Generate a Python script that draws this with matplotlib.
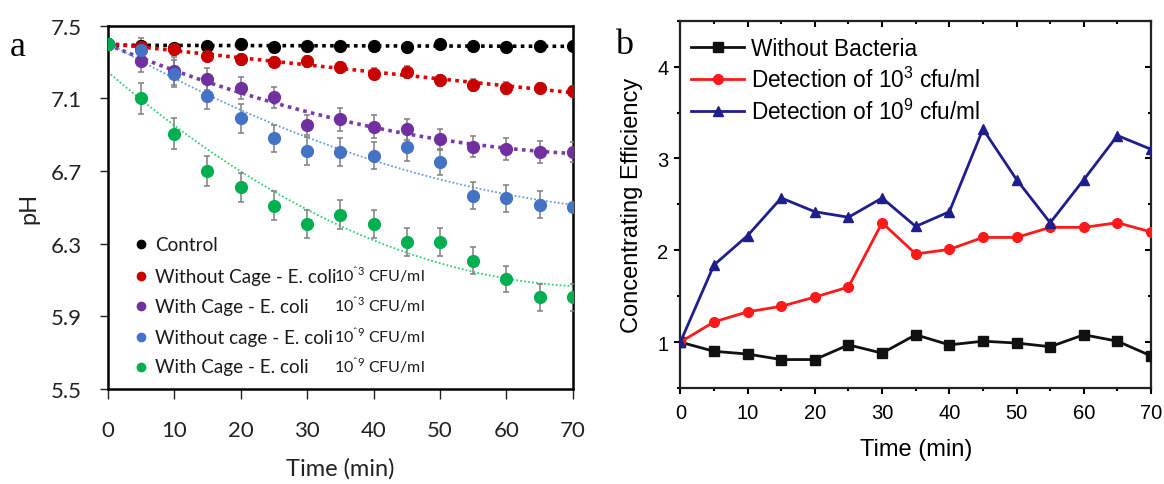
import numpy as np
import matplotlib
matplotlib.use("Agg")
import matplotlib.pyplot as plt
from matplotlib.ticker import MultipleLocator

plt.rcParams['mathtext.fontset'] = 'custom'
plt.rcParams['mathtext.rm'] = 'Lato'
plt.rcParams['mathtext.sf'] = 'Liberation Sans'

# ---------------- data: panel a ----------------
time = [0, 5, 10, 15, 20, 25, 30, 35, 40, 45, 50, 55, 60, 65, 70]
ph_control = [7.40, 7.39, 7.38, 7.39, 7.40, 7.385, 7.39, 7.39, 7.39, 7.385, 7.40, 7.387, 7.381, 7.387, 7.387]
ph_red = [7.40, 7.385, 7.37, 7.335, 7.315, 7.30, 7.305, 7.27, 7.235, 7.245, 7.20, 7.173, 7.157, 7.157, 7.139]
ph_purple = [7.40, 7.305, 7.25, 7.205, 7.155, 7.105, 6.955, 6.985, 6.945, 6.93, 6.875, 6.835, 6.82, 6.805, 6.805]
ph_blue = [7.40, 7.365, 7.235, 7.115, 6.99, 6.88, 6.81, 6.805, 6.785, 6.83, 6.75, 6.565, 6.55, 6.515, 6.50]
ph_green = [7.40, 7.10, 6.905, 6.70, 6.61, 6.51, 6.41, 6.46, 6.41, 6.31, 6.31, 6.205, 6.105, 6.005, 6.005]

err_control = [0.0, 0.02, 0.02, 0.02, 0.025, 0.02, 0.02, 0.02, 0.02, 0.02, 0.02, 0.02, 0.02, 0.02, 0.02]
err_red = [0.0, 0.03, 0.03, 0.03, 0.032, 0.03, 0.03, 0.032, 0.03, 0.034, 0.03, 0.035, 0.035, 0.03, 0.03]
err_purple = [0.0, 0.06, 0.078, 0.06, 0.06, 0.06, 0.055, 0.064, 0.064, 0.058, 0.057, 0.058, 0.06, 0.06, 0.055]
err_blue = [0.0, 0.07, 0.075, 0.076, 0.08, 0.076, 0.078, 0.078, 0.076, 0.077, 0.073, 0.073, 0.073, 0.073, 0.0]
err_green = [0.0, 0.084, 0.085, 0.08, 0.08, 0.082, 0.078, 0.078, 0.078, 0.077, 0.077, 0.074, 0.073, 0.074, 0.075]

labels_a = ["Control", "Without Cage - E. coli", "With Cage - E. coli",
            "Without cage - E. coli", "With Cage - E. coli"]
conc_a = ["", "10$^{\\mathrm{ˆ3}}$ CFU/ml", "10$^{\\mathrm{ˆ3}}$ CFU/ml",
          "10$^{\\mathrm{ˆ9}}$ CFU/ml", "10$^{\\mathrm{ˆ9}}$ CFU/ml"]

# ---------------- data: panel b ----------------
eff_none = [1.0, 0.90, 0.87, 0.81, 0.81, 0.97, 0.88, 1.08, 0.97, 1.01, 0.99, 0.95, 1.08, 1.01, 0.85]
eff_1e3 = [1.0, 1.22, 1.33, 1.39, 1.49, 1.60, 2.30, 1.96, 2.01, 2.14, 2.14, 2.25, 2.25, 2.30, 2.20]
eff_1e9 = [1.0, 1.84, 2.16, 2.57, 2.42, 2.36, 2.57, 2.26, 2.42, 3.32, 2.77, 2.30, 2.77, 3.25, 3.10]
labels_b = ["Without Bacteria", "Detection of 10$^{\\mathsf{3}}$ cfu/ml",
            "Detection of 10$^{\\mathsf{9}}$ cfu/ml"]

fig = plt.figure(figsize=(11.64, 4.85), dpi=100)

# ================= panel a =================
axa = fig.add_axes([0.0925, 0.1959, 0.3997, 0.749])
series = [
    (ph_control, err_control, '#000000', '#000000', 2.6),
    (ph_red, err_red, '#c80000', '#e00000', 2.6),
    (ph_purple, err_purple, '#7030a0', '#7a3aa8', 2.6),
    (ph_blue, err_blue, '#4472c4', '#6a9be0', 1.3),
    (ph_green, err_green, '#00b050', '#33d070', 1.3),
]
t = np.array(time, dtype=float)
tt = np.linspace(0, 70, 200)
for vals, err, col, fcol, flw in series:
    coef = np.polyfit(t, vals, 2)
    axa.plot(tt, np.polyval(coef, tt), color=fcol, lw=flw, ls=(0, (1, 1.2)), zorder=2)
for vals, err, col, fcol, flw in series:
    axa.errorbar(t, vals, yerr=err, fmt='none', ecolor='#7f7f7f', elinewidth=1.1,
                 capsize=2.5, capthick=1.1, zorder=3)
    axa.plot(t, vals, 'o', color=col, ms=8.5, mec=col, zorder=4)

axa.set_xlim(0, 70)
axa.set_ylim(5.5, 7.5)
axa.set_xticks(range(0, 71, 10))
axa.set_yticks([5.5, 5.9, 6.3, 6.7, 7.1, 7.5])
axa.set_yticklabels(["5.5", "5.9", "6.3", "6.7", "7.1", "7.5"])
for s in axa.spines.values():
    s.set_linewidth(1.8)
    s.set_color('#000000')
axa.tick_params(axis='x', direction='out', length=7.5, width=1.0, pad=15,
                labelsize=16, colors='#222222')
axa.tick_params(axis='y', direction='out', length=5.5, width=1.0, pad=13,
                labelsize=16, colors='#222222')
for lab in axa.get_xticklabels() + axa.get_yticklabels():
    lab.set_family('Lato')
axa.set_xlabel("Time (min)", family='Lato', fontsize=17, labelpad=12, color='#222222')
axa.set_ylabel("pH", family='Lato', fontsize=17, labelpad=8, color='#222222')

# legend of panel a (key symbols and texts in axes fraction)
rows_y = [0.399, 0.311, 0.228, 0.143, 0.0606]
for (vals, err, col, fcol, flw), lab, conc, yy in zip(series, labels_a, conc_a, rows_y):
    axa.plot([0.0716], [yy], 'o', ms=6, color=col, transform=axa.transAxes, clip_on=False)
    axa.text(0.1017, yy, lab, transform=axa.transAxes, family='Lato', fontsize=13.6,
             va='center', ha='left', color='#1a1a1a')
    if conc:
        axa.text(0.487, yy + 0.004, conc, transform=axa.transAxes, family='Lato', fontsize=11.5,
                 va='center', ha='left', color='#1a1a1a')

fig.text(18 / 1164, 1 - 47 / 485, "a", family='Liberation Serif', fontsize=26,
         ha='center', va='center')

# ================= panel b =================
axb = fig.add_axes([0.5845, 0.1979, 0.4044, 0.7572])
axb.plot(time, eff_none, '-s', color='#111111', lw=2, ms=6.5, label=labels_b[0], zorder=3)
axb.plot(time, eff_1e3, '-o', color='#ff1a1a', lw=2, ms=7, label=labels_b[1], zorder=4)
axb.plot(time, eff_1e9, '-^', color='#1e1e8c', lw=2, ms=7.5, label=labels_b[2], zorder=5)
axb.set_xlim(0, 70)
axb.set_ylim(0.5, 4.5)
axb.xaxis.set_major_locator(MultipleLocator(10))
axb.xaxis.set_minor_locator(MultipleLocator(5))
axb.yaxis.set_major_locator(MultipleLocator(1))
axb.yaxis.set_minor_locator(MultipleLocator(0.5))
for s in axb.spines.values():
    s.set_linewidth(1.6)
    s.set_color('#222222')
axb.tick_params(axis='both', which='major', direction='out', length=4.5, width=1.5,
                labelsize=14.5, pad=4)
axb.tick_params(axis='x', which='major', pad=6)
axb.tick_params(axis='both', which='minor', direction='out', length=2.5, width=1.5)
for lab in axb.get_xticklabels() + axb.get_yticklabels():
    lab.set_family('Liberation Sans')
# mirrored inward ticks on top and right
axt = axb.secondary_xaxis('top')
axt.xaxis.set_major_locator(MultipleLocator(10))
axt.xaxis.set_minor_locator(MultipleLocator(5))
axt.tick_params(which='major', direction='in', length=4.5, width=1.5, labeltop=False)
axt.tick_params(which='minor', direction='in', length=2.5, width=1.5)
axr = axb.secondary_yaxis('right')
axr.yaxis.set_major_locator(MultipleLocator(1))
axr.yaxis.set_minor_locator(MultipleLocator(0.5))
axr.tick_params(which='major', direction='in', length=4.5, width=1.5, labelright=False)
axr.tick_params(which='minor', direction='in', length=2.5, width=1.5)
for sa in (axt, axr):
    for s in sa.spines.values():
        s.set_visible(False)

axb.set_xlabel("Time (min)", family='Liberation Sans', fontsize=17, labelpad=12)
axb.set_ylabel("Concentrating Efficiency", family='Liberation Sans', fontsize=17, labelpad=10)
axb.legend(loc='upper left', bbox_to_anchor=(-0.011, 1.0), frameon=False,
           prop={'family': 'Liberation Sans', 'size': 16.3},
           handlelength=2.35, handletextpad=0.3, labelspacing=0.3,
           borderpad=0.15, borderaxespad=0.55)

fig.text(624 / 1164, 1 - 45 / 485, "b", family='Liberation Serif', fontsize=26,
         ha='center', va='center')

fig.savefig("out.png", dpi=100)
